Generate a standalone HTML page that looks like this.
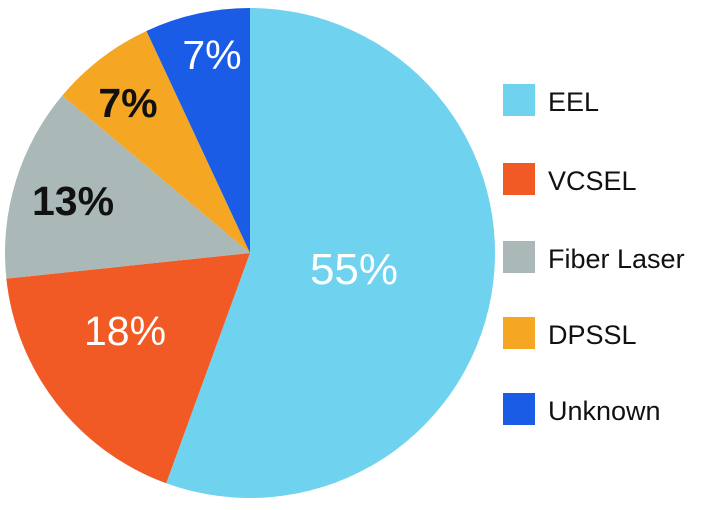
<!DOCTYPE html>
<html><head><meta charset="utf-8"><style>
html,body{margin:0;padding:0;background:#fff;}
svg{display:block;}
text{font-family:"Liberation Sans",sans-serif;}
</style></head><body>
<svg width="709" height="510" viewBox="0 0 709 510" xmlns="http://www.w3.org/2000/svg">
<g id="pie"></g>
<text x="354" y="284" font-size="44" fill="#fff" text-anchor="middle">55%</text>
<text x="125" y="345" font-size="41" fill="#fff" text-anchor="middle">18%</text>
<text x="73" y="215" font-size="41" fill="#111" font-weight="bold" text-anchor="middle">13%</text>
<text x="128" y="117" font-size="41" fill="#111" font-weight="bold" text-anchor="middle">7%</text>
<text x="212" y="69" font-size="41" fill="#fff" text-anchor="middle">7%</text>
<rect x="503" y="84" width="32" height="32" fill="#6fd3ef"/>
<text x="548" y="111" font-size="27" fill="#111">EEL</text>
<rect x="503" y="163" width="32" height="32" fill="#f15a24"/>
<text x="548" y="190" font-size="27" fill="#111">VCSEL</text>
<rect x="503" y="241" width="32" height="32" fill="#aab8b8"/>
<text x="548" y="268" font-size="27" fill="#111">Fiber Laser</text>
<rect x="503" y="317" width="32" height="32" fill="#f5a623"/>
<text x="548" y="344" font-size="27" fill="#111">DPSSL</text>
<rect x="503" y="393" width="32" height="32" fill="#1a5ce6"/>
<text x="548" y="420" font-size="27" fill="#111">Unknown</text>
</svg>
<script>
var cx=250,cy=253,r=245;
var s=[[0,200,"#6fd3ef"],[200,264,"#f15a24"],[264,310,"#aab8b8"],[310,335,"#f5a623"],[335,360,"#1a5ce6"]];
var g=document.getElementById("pie"),h="";
function p(a){a=a*Math.PI/180;return (cx+r*Math.sin(a)).toFixed(2)+","+(cy-r*Math.cos(a)).toFixed(2);}
s.forEach(function(d){var l=(d[1]-d[0])>180?1:0;
h+='<path d="M'+cx+','+cy+' L'+p(d[0])+' A'+r+','+r+' 0 '+l+' 1 '+p(d[1])+' Z" fill="'+d[2]+'"/>';});
g.innerHTML=h;
</script>
</body></html>
